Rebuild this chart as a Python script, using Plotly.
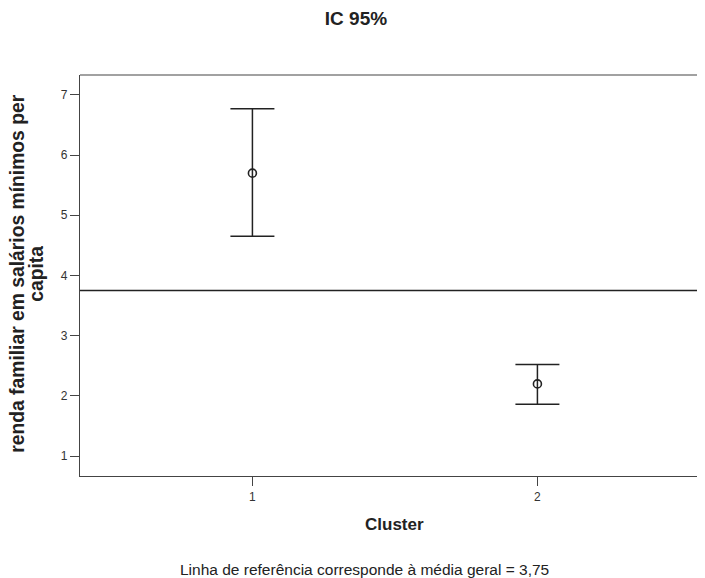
import plotly.graph_objects as go

clusters = [1, 2]
means = [5.70, 2.20]
upper = [6.77, 2.52]
lower = [4.65, 1.86]
ref_value = 3.75
y_ticks = [1, 2, 3, 4, 5, 6, 7]

# page body has an 8px margin, so the figure is laid out in page coords minus 8
OFF = 8
W, H = 705 - OFF, 578 - OFF
L, T, R = 80 - OFF, 75 - OFF, 0
B = H - (476.5 - OFF)

pw = W - L - R
ph = H - T - B


def px_x(x):
    return (x - OFF - L) / pw


def px_y(y):
    return (H - B - (y - OFF)) / ph


fig = go.Figure()
fig.add_trace(go.Scatter(
    x=clusters, y=means, mode="markers",
    marker=dict(symbol="circle-open", size=8, color="#222", line=dict(width=1.6, color="#222")),
    error_y=dict(type="data", symmetric=False,
                 array=[u - m for u, m in zip(upper, means)],
                 arrayminus=[m - l for m, l in zip(means, lower)],
                 color="#222", thickness=1.5, width=22),
    showlegend=False,
))
fig.add_hline(y=ref_value, line=dict(color="#222", width=1.5))

# top frame line (right edge is cut off in the reference)
fig.add_shape(type="line", xref="paper", yref="paper", x0=0, x1=1, y0=1, y1=1,
              line=dict(color="#444", width=1.2))

fig.update_layout(
    width=W, height=H,
    margin=dict(l=L, r=R, t=T, b=B, pad=0),
    paper_bgcolor="white", plot_bgcolor="white",
    font=dict(family="Liberation Sans, Arial, sans-serif", color="#222"),
    title=dict(text="<b>IC 95%</b>", x=(356 - OFF) / W, xanchor="center",
               y=1 - (18 - OFF) / H, yanchor="middle", font=dict(size=19, color="#222")),
    xaxis=dict(range=[0.395, 2.588], tickvals=clusters, ticktext=[str(c) for c in clusters],
               showgrid=False, zeroline=False, showline=True, linecolor="#444", linewidth=1.2,
               ticks="outside", ticklen=9, tickcolor="#444", tickwidth=1,
               tickfont=dict(size=12, color="#333")),
    yaxis=dict(range=[0.67, 7.33], tickvals=y_ticks,
               showgrid=False, zeroline=False, showline=True, linecolor="#444", linewidth=1.2,
               ticks="outside", ticklen=9, tickcolor="#444", tickwidth=1,
               tickfont=dict(size=12, color="#333")),
    annotations=[
        dict(text="<b>renda familiar em salários mínimos per</b>",
             xref="paper", yref="paper", x=px_x(18), y=px_y(274),
             xanchor="center", yanchor="middle", textangle=-90, showarrow=False,
             font=dict(size=19.3, color="#222")),
        dict(text="<b>capita</b>",
             xref="paper", yref="paper", x=px_x(37), y=px_y(274),
             xanchor="center", yanchor="middle", textangle=-90, showarrow=False,
             font=dict(size=19.3, color="#222")),
        dict(text="<b>Cluster</b>", xref="paper", yref="paper",
             x=px_x(394), y=px_y(525), xanchor="center", yanchor="middle",
             showarrow=False, font=dict(size=17, color="#222")),
        dict(text="Linha de referência corresponde à média geral = 3,75", xref="paper", yref="paper",
             x=px_x(364), y=px_y(570), xanchor="center", yanchor="middle",
             showarrow=False, font=dict(size=15.5, color="#222")),
    ],
)

fig.write_html("out.html")
